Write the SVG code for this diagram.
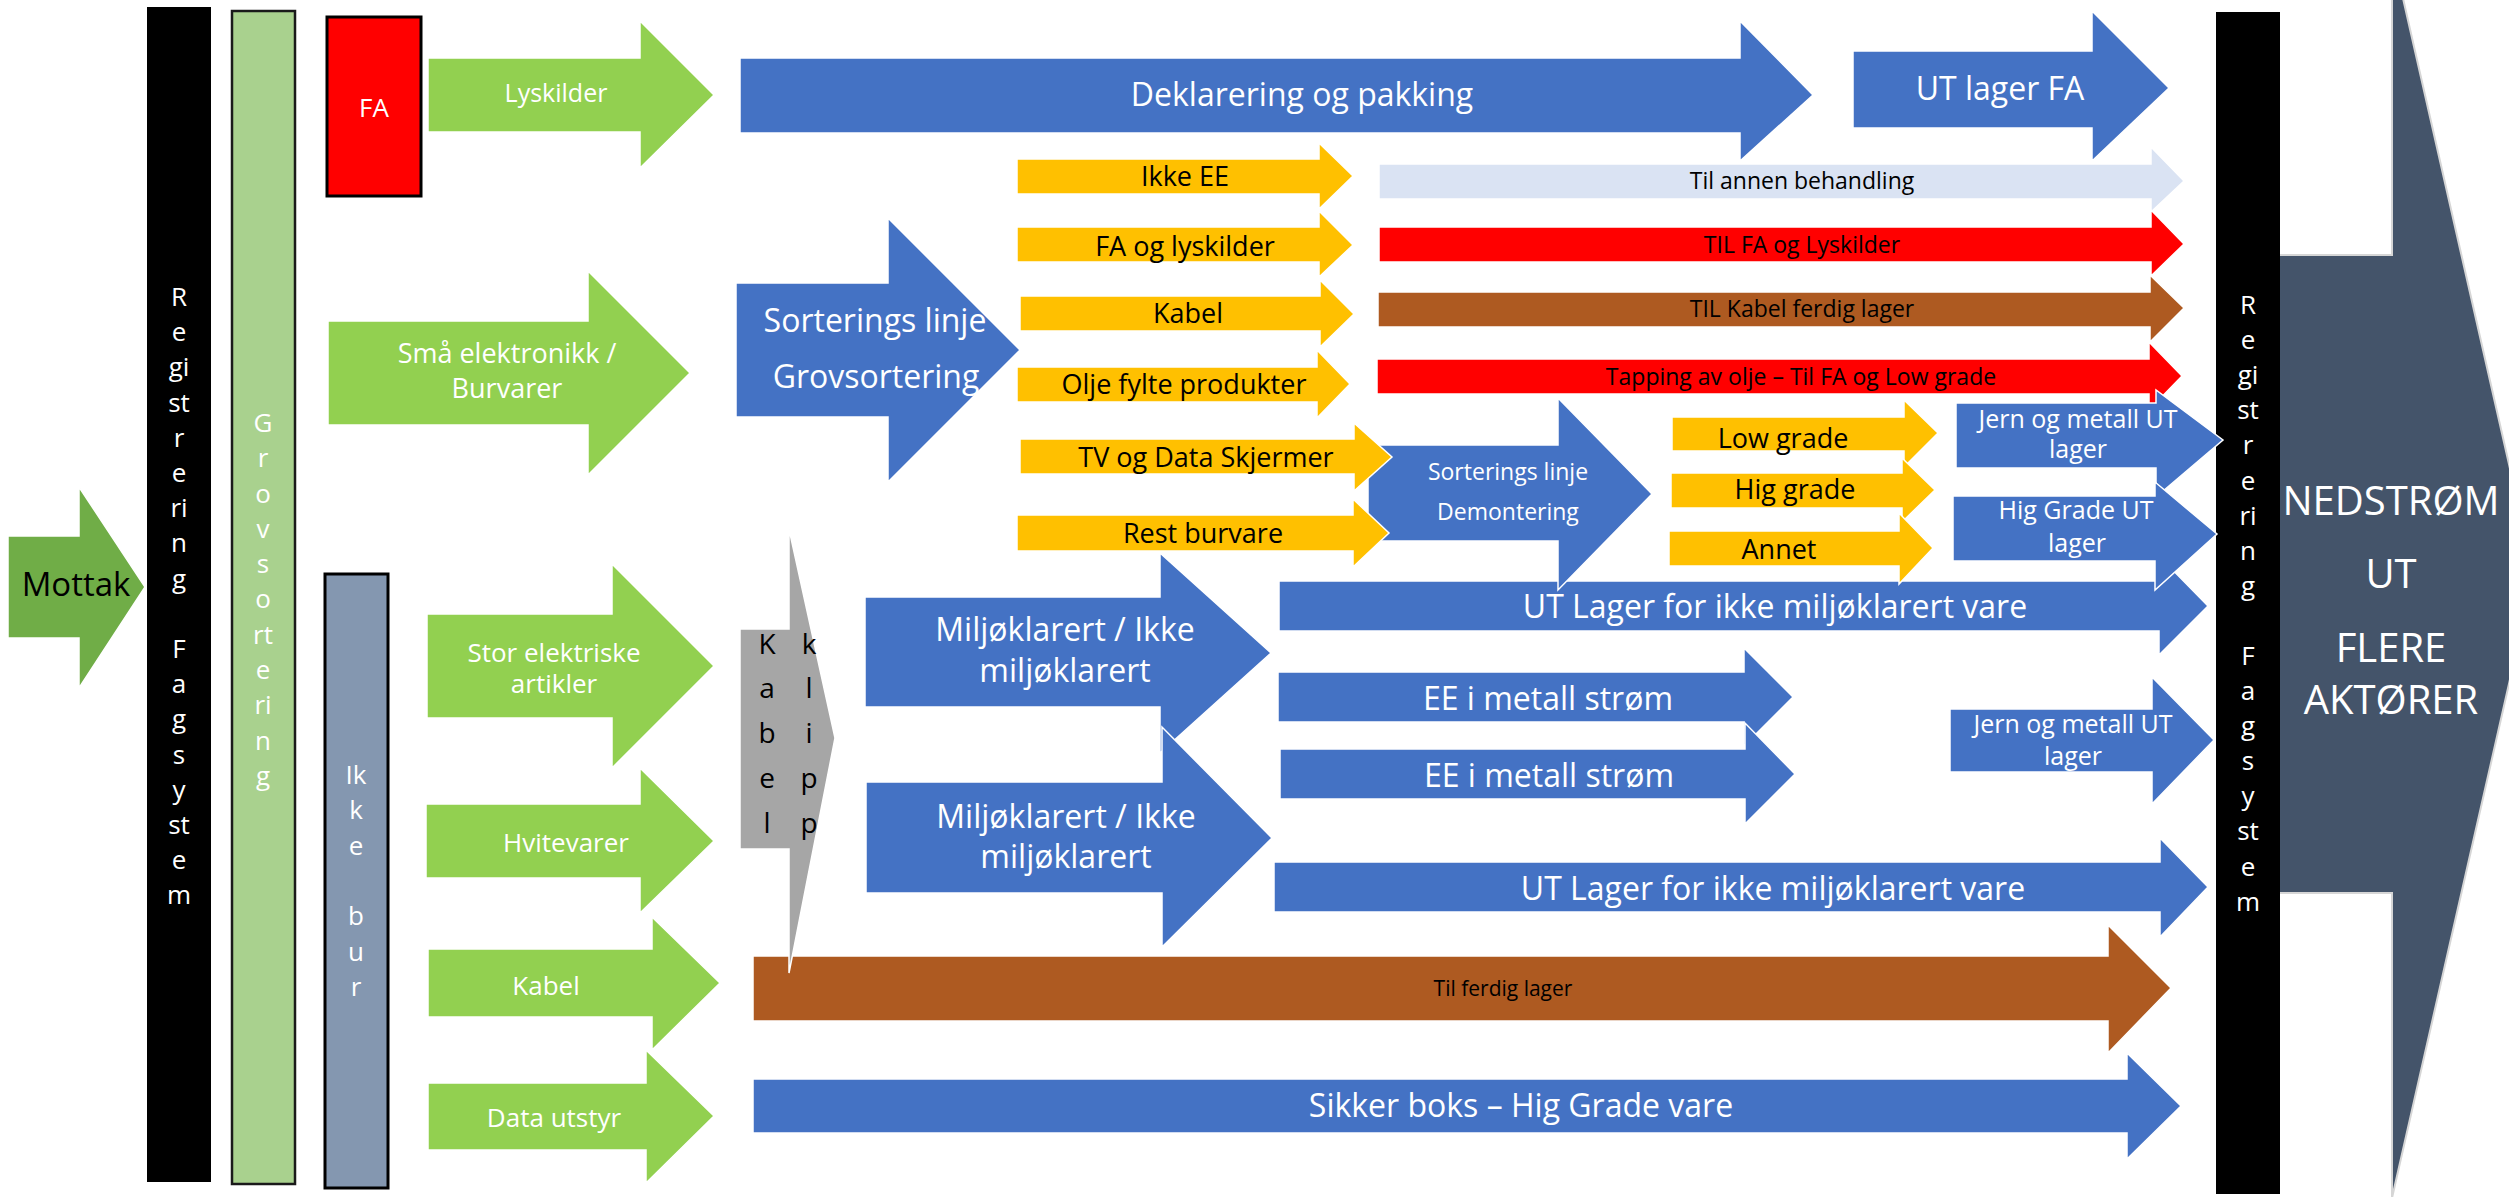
<svg xmlns="http://www.w3.org/2000/svg" width="2509" height="1197" viewBox="0 0 2509 1197">
<style>
.t{font-family:"Open Sans","Noto Sans","DejaVu Sans",sans-serif;text-anchor:middle}
.w{fill:#FFFFFF}.k{fill:#000000}
.ar{stroke:#FFFFFF;stroke-width:1.5;stroke-linejoin:miter}
.green{fill:#92D050}.dgreen{fill:#70AD47}.blue{fill:#4472C4}.yel{fill:#FFC000}
.red{fill:#FF0000}.brown{fill:#AE5A21}.lblue{fill:#DAE3F3}.gray{fill:#A6A6A6}
.f21{font-size:21px}.f23{font-size:23px}.f25{font-size:25px}.f26{font-size:26px}.f27{font-size:27px}.f28{font-size:28px}.f32{font-size:32px}.f33{font-size:33px}.f40{font-size:40px}
</style>
<rect width="2509" height="1197" fill="#FFFFFF"/>

<g id="nedstrom">
<path d="M2250 255 H2392 V-50 L2534 574 L2392 1198 V893 H2250 Z" fill="#44546A" stroke="#D6D6D6" stroke-width="2"/>
<text class="t w f40"><tspan x="2391" y="515">NEDSTRØM</tspan><tspan x="2391" y="588">UT</tspan><tspan x="2391" y="662">FLERE</tspan><tspan x="2391" y="714">AKTØRER</tspan></text>
</g>

<g id="registrering-left">
<rect x="147" y="7" width="64" height="1175" fill="#000000"/>
<text class="t w f26"><tspan x="179" y="306">R</tspan><tspan x="179" y="341">e</tspan><tspan x="179" y="376">gi</tspan><tspan x="179" y="412">st</tspan><tspan x="179" y="447">r</tspan><tspan x="179" y="482">e</tspan><tspan x="179" y="517">ri</tspan><tspan x="179" y="552">n</tspan><tspan x="179" y="588">g</tspan><tspan x="179" y="658">F</tspan><tspan x="179" y="693">a</tspan><tspan x="179" y="728">g</tspan><tspan x="179" y="764">s</tspan><tspan x="179" y="799">y</tspan><tspan x="179" y="834">st</tspan><tspan x="179" y="869">e</tspan><tspan x="179" y="904">m</tspan></text>
</g>

<g id="grovsortering">
<rect x="232" y="11" width="63" height="1173" fill="#A9D18E" stroke="#1A1A1A" stroke-width="2.5"/>
<text class="t w f26"><tspan x="263" y="432">G</tspan><tspan x="263" y="467">r</tspan><tspan x="263" y="503">o</tspan><tspan x="263" y="538">v</tspan><tspan x="263" y="573">s</tspan><tspan x="263" y="608">o</tspan><tspan x="263" y="644">rt</tspan><tspan x="263" y="679">e</tspan><tspan x="263" y="714">ri</tspan><tspan x="263" y="750">n</tspan><tspan x="263" y="785">g</tspan></text>
</g>

<g id="fa">
<rect x="327" y="17" width="94" height="179" fill="#FF0000" stroke="#000000" stroke-width="3"/>
<text class="t w f26" x="374" y="117">FA</text>
</g>

<g id="ikke-bur">
<rect x="325" y="574" width="63" height="614" fill="#8497B0" stroke="#000000" stroke-width="3"/>
<text class="t w f26"><tspan x="356" y="784">Ik</tspan><tspan x="356" y="819">k</tspan><tspan x="356" y="855">e</tspan><tspan x="356" y="925">b</tspan><tspan x="356" y="961">u</tspan><tspan x="356" y="996">r</tspan></text>
</g>

<g id="registrering-right">
<rect x="2216" y="12" width="64" height="1182" fill="#000000"/>
<text class="t w f26"><tspan x="2248" y="314">R</tspan><tspan x="2248" y="349">e</tspan><tspan x="2248" y="384">gi</tspan><tspan x="2248" y="419">st</tspan><tspan x="2248" y="454">r</tspan><tspan x="2248" y="490">e</tspan><tspan x="2248" y="525">ri</tspan><tspan x="2248" y="560">n</tspan><tspan x="2248" y="595">g</tspan><tspan x="2248" y="665">F</tspan><tspan x="2248" y="700">a</tspan><tspan x="2248" y="735">g</tspan><tspan x="2248" y="770">s</tspan><tspan x="2248" y="805">y</tspan><tspan x="2248" y="840">st</tspan><tspan x="2248" y="876">e</tspan><tspan x="2248" y="911">m</tspan></text>
</g>

<g id="mottak">
<path class="ar dgreen" d="M8 536 H79 V487 L145 587 L79 688 V638 H8 Z"/>
<text class="t k f33" x="76" y="596">Mottak</text>
</g>
<g id="lyskilder">
<path class="ar green" d="M428 58 H640 V21 L714 95 L640 168 V132 H428 Z"/>
<text class="t w f25" x="556" y="102">Lyskilder</text>
</g>
<g id="sma-elektronikk">
<path class="ar green" d="M328 321 H588 V271 L690 373 L588 475 V425 H328 Z"/>
<text class="t w f27"><tspan x="507" y="363">Små elektronikk /</tspan><tspan x="507" y="398">Burvarer</tspan></text>
</g>
<g id="stor-elektriske">
<path class="ar green" d="M427 614 H612 V564 L714 666 L612 768 V718 H427 Z"/>
<text class="t w f26"><tspan x="554" y="662">Stor elektriske</tspan><tspan x="554" y="693">artikler</tspan></text>
</g>
<g id="hvitevarer">
<path class="ar green" d="M426 804 H640 V768 L714 841 L640 913 V878 H426 Z"/>
<text class="t w f26" x="566" y="852">Hvitevarer</text>
</g>
<g id="kabel-inn">
<path class="ar green" d="M428 949 H652 V917 L720 983 L652 1050 V1017 H428 Z"/>
<text class="t w f26" x="546" y="995">Kabel</text>
</g>
<g id="data-utstyr">
<path class="ar green" d="M428 1083 H646 V1050 L714 1116 L646 1183 V1150 H428 Z"/>
<text class="t w f26" x="554" y="1127">Data utstyr</text>
</g>

<g id="deklarering">
<path class="ar blue" d="M740 58 H1740 V21 L1813 95 L1740 161 V133 H740 Z"/>
<text class="t w f32" x="1302" y="106">Deklarering og pakking</text>
</g>
<g id="ut-lager-fa">
<path class="ar blue" d="M1853 51 H2092 V11 L2169 88 L2092 161 V128 H1853 Z"/>
<text class="t w f32" x="2000" y="100">UT lager FA</text>
</g>
<g id="sorterings-grov">
<path class="ar blue" d="M736 283 H888 V218 L1020 350 L888 482 V417 H736 Z"/>
<text class="t w f32"><tspan x="875" y="332">Sorterings linje</tspan><tspan x="876" y="388">Grovsortering</tspan></text>
</g>

<g id="ikke-ee">
<path class="ar yel" d="M1017 159 H1319 V143 L1353 176 L1319 209 V194 H1017 Z"/>
<text class="t k f27" x="1185" y="186">Ikke EE</text>
</g>
<g id="fa-og-lyskilder">
<path class="ar yel" d="M1017 227 H1319 V211 L1353 245 L1319 277 V262 H1017 Z"/>
<text class="t k f27" x="1185" y="256">FA og lyskilder</text>
</g>
<g id="kabel-sort">
<path class="ar yel" d="M1020 296 H1320 V280 L1354 314 L1320 347 V331 H1020 Z"/>
<text class="t k f27" x="1188" y="323">Kabel</text>
</g>
<g id="olje">
<path class="ar yel" d="M1017 367 H1317 V350 L1350 384 L1317 418 V402 H1017 Z"/>
<text class="t k f27" x="1184" y="394">Olje fylte produkter</text>
</g>

<g id="til-annen">
<path class="ar lblue" d="M1379 164 H2151 V147 L2184 181 L2151 212 V199 H1379 Z"/>
<text class="t k f23" x="1802" y="189">Til annen behandling</text>
</g>
<g id="til-fa">
<path class="ar red" d="M1379 227 H2151 V210 L2184 244 L2151 276 V262 H1379 Z"/>
<text class="t k f23" x="1802" y="253">TIL FA og Lyskilder</text>
</g>
<g id="til-kabel">
<path class="ar brown" d="M1378 292 H2150 V275 L2184 308 L2150 342 V327 H1378 Z"/>
<text class="t k f23" x="1802" y="317">TIL Kabel ferdig lager</text>
</g>
<g id="tapping">
<path class="ar red" d="M1377 359 H2149 V342 L2182 376 L2149 410 V394 H1377 Z"/>
<text class="t k f23" x="1801" y="385">Tapping av olje – Til FA og Low grade</text>
</g>

<g id="ut-lager-ikke-1">
<path class="ar blue" d="M1279 581 H2159 V556 L2208 606 L2159 655 V631 H1279 Z"/>
<text class="t w f32" x="1775" y="618">UT Lager for ikke miljøklarert vare</text>
</g>

<g id="demontering">
<path class="ar blue" d="M1368 445 H1558 V398 L1652 494 L1558 590 V541 H1368 Z"/>
<text class="t w f23"><tspan x="1508" y="480">Sorterings linje</tspan><tspan x="1508" y="520">Demontering</tspan></text>
</g>
<g id="tv-data">
<path class="ar yel" d="M1020 439 H1354 V423 L1392 457 L1354 491 V474 H1020 Z"/>
<text class="t k f27" x="1206" y="467">TV og Data Skjermer</text>
</g>
<g id="rest-burvare">
<path class="ar yel" d="M1017 515 H1353 V499 L1389 533 L1353 567 V551 H1017 Z"/>
<text class="t k f27" x="1203" y="543">Rest burvare</text>
</g>

<g id="low-grade">
<path class="ar yel" d="M1672 417 H1904 V400 L1938 433 L1904 467 V451 H1672 Z"/>
<text class="t k f27" x="1783" y="448">Low grade</text>
</g>
<g id="hig-grade">
<path class="ar yel" d="M1671 473 H1902 V458 L1935 490 L1902 522 V508 H1671 Z"/>
<text class="t k f27" x="1795" y="499">Hig grade</text>
</g>
<g id="annet">
<path class="ar yel" d="M1669 531 H1899 V513 L1933 548 L1899 584 V566 H1669 Z"/>
<text class="t k f27" x="1779" y="559">Annet</text>
</g>

<g id="jern-1">
<path class="ar blue" d="M1956 403 H2156 V390 L2223 440 L2156 497 V468 H1956 Z"/>
<text class="t w f25"><tspan x="2078" y="428">Jern og metall UT</tspan><tspan x="2078" y="458">lager</tspan></text>
</g>
<g id="hig-grade-ut">
<path class="ar blue" d="M1953 496 H2155 V482 L2217 534 L2155 590 V561 H1953 Z"/>
<text class="t w f25"><tspan x="2076" y="519">Hig Grade UT</tspan><tspan x="2077" y="552">lager</tspan></text>
</g>

<g id="ee-1">
<path class="ar blue" d="M1278 672 H1744 V648 L1793 697 L1744 746 V722 H1278 Z"/>
<text class="t w f32" x="1548" y="710">EE i metall strøm</text>
</g>
<g id="ee-2">
<path class="ar blue" d="M1280 749 H1745 V723 L1795 774 L1745 824 V799 H1280 Z"/>
<text class="t w f32" x="1549" y="787">EE i metall strøm</text>
</g>
<g id="jern-2">
<path class="ar blue" d="M1950 709 H2152 V677 L2214 740 L2152 804 V772 H1950 Z"/>
<text class="t w f25"><tspan x="2073" y="733">Jern og metall UT</tspan><tspan x="2073" y="765">lager</tspan></text>
</g>
<g id="ut-lager-ikke-2">
<path class="ar blue" d="M1274 862 H2160 V838 L2208 887 L2160 937 V912 H1274 Z"/>
<text class="t w f32" x="1773" y="900">UT Lager for ikke miljøklarert vare</text>
</g>

<g id="miljo-1">
<path class="ar blue" d="M865 597 H1160 V553 L1271 653 L1160 753 V707 H865 Z"/>
<text class="t w f32"><tspan x="1065" y="641">Miljøklarert / Ikke</tspan><tspan x="1065" y="682">miljøklarert</tspan></text>
</g>
<g id="miljo-2">
<path class="ar blue" d="M866 782 H1162 V727 L1272 838 L1162 947 V893 H866 Z"/>
<text class="t w f32"><tspan x="1066" y="828">Miljøklarert / Ikke</tspan><tspan x="1066" y="868">miljøklarert</tspan></text>
</g>

<g id="til-ferdig-lager">
<path class="ar brown" d="M753 956 H2108 V925 L2171 988 L2108 1053 V1021 H753 Z"/>
<text class="t k f21" x="1503" y="996">Til ferdig lager</text>
</g>
<g id="kabel-klipp">
<path class="ar gray" d="M740 629 H789 V529 L835 738 L789 973 V849 H740 Z"/>
<text class="t k f28"><tspan x="767" y="654">K</tspan><tspan x="767" y="698">a</tspan><tspan x="767" y="743">b</tspan><tspan x="767" y="788">e</tspan><tspan x="767" y="833">l</tspan><tspan x="809" y="654">k</tspan><tspan x="809" y="698">l</tspan><tspan x="809" y="743">i</tspan><tspan x="809" y="788">p</tspan><tspan x="809" y="833">p</tspan></text>
</g>
<g id="sikker-boks">
<path class="ar blue" d="M753 1079 H2127 V1053 L2181 1106 L2127 1159 V1133 H753 Z"/>
<text class="t w f32" x="1521" y="1117">Sikker boks – Hig Grade vare</text>
</g>

<g id="connectors"></g>
</svg>
